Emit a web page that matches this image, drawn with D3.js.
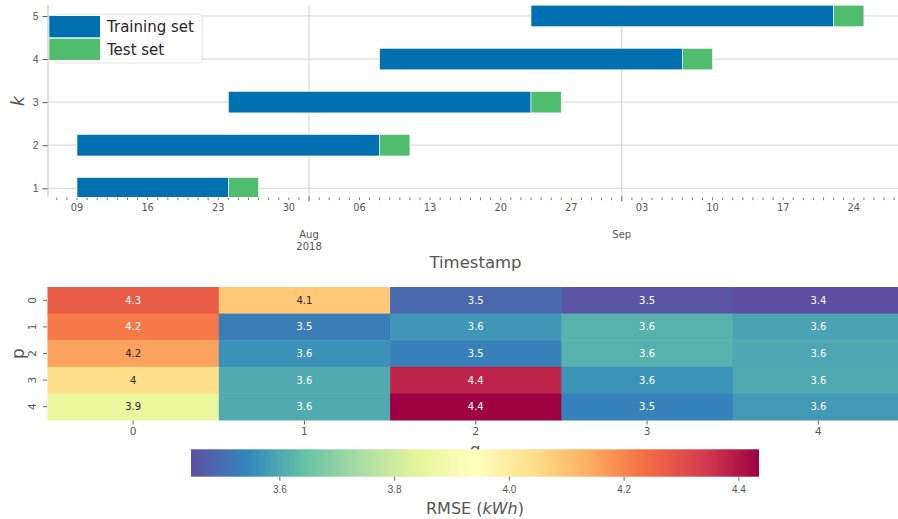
<!DOCTYPE html>
<html>
<head>
<meta charset="utf-8">
<script src="https://cdn.jsdelivr.net/npm/d3@7/dist/d3.min.js"></script>
<style>
  html, body { margin: 0; padding: 0; background: #fff; }
  svg { display: block; font-family: "DejaVu Sans", sans-serif; }
</style>
</head>
<body>
<svg id="chart" width="898" height="519"></svg>
<script>
// ---- Cross-validation folds (time-series split) ----
const folds = [1, 2, 3, 4, 5];
const trainStart = ["2018-07-09", "2018-07-09", "2018-07-24", "2018-08-08", "2018-08-23"];
const trainEnd   = ["2018-07-24", "2018-08-08", "2018-08-23", "2018-09-07", "2018-09-22"];
const testEnd    = ["2018-07-27", "2018-08-11", "2018-08-26", "2018-09-10", "2018-09-25"];
const seriesNames = ["Training set", "Test set"];
const seriesColors = ["#0070b0", "#50bd6e"];

// ---- Grid search RMSE (rows: p, columns: q) ----
const pValues = [0, 1, 2, 3, 4];
const qValues = [0, 1, 2, 3, 4];
const rmse = [
  [4.273, 4.088, 3.490, 3.455, 3.446],
  [4.218, 3.527, 3.569, 3.615, 3.591],
  [4.156, 3.562, 3.531, 3.615, 3.596],
  [4.040, 3.603, 4.379, 3.564, 3.600],
  [3.857, 3.603, 4.436, 3.534, 3.574]
];
const colorbarTicks = [3.6, 3.8, 4.0, 4.2, 4.4];
// Spectral, reversed (low = purple, high = crimson)
const spectralR = ["#5e4fa2", "#3288bd", "#66c2a5", "#abdda4", "#e6f598", "#ffffbf",
                   "#fee08b", "#fdae61", "#f46d43", "#d53e4f", "#9e0142"];

const svg = d3.select("#chart");
const parse = d3.utcParse("%Y-%m-%d");
const tickGray = "#555";

// ================= Upper panel: fold timeline =================
const tl = { left: 48, right: 903, top: 5.2, bottom: 196.9 };
const x = d3.scaleUtc()
  .domain([new Date(Date.UTC(2018, 6, 6, 3)), new Date(Date.UTC(2018, 8, 28, 21))])
  .range([tl.left, tl.right]);
const y = d3.scaleLinear().domain([0.8, 5.25]).range([tl.bottom, tl.top]);

svg.append("clipPath").attr("id", "tlClip")
  .append("rect").attr("x", tl.left).attr("y", tl.top)
  .attr("width", tl.right - tl.left).attr("height", tl.bottom - tl.top);

const gTl = svg.append("g");

// gridlines
gTl.append("g").selectAll("line").data(folds).join("line")
  .attr("x1", tl.left).attr("x2", tl.right)
  .attr("y1", d => y(d)).attr("y2", d => y(d))
  .attr("stroke", "#dedede").attr("stroke-width", 1.3);
const months = d3.utcMonth.range(x.domain()[0], x.domain()[1]);
gTl.append("g").selectAll("line").data(months).join("line")
  .attr("x1", d => x(d)).attr("x2", d => x(d))
  .attr("y1", tl.top).attr("y2", tl.bottom)
  .attr("stroke", "#cfcfcf").attr("stroke-width", 1);

// bars
const barH = 0.5;
const bars = gTl.append("g").attr("clip-path", "url(#tlClip)");
folds.forEach((k, i) => {
  const segs = [
    { a: parse(trainStart[i]), b: parse(trainEnd[i]), c: seriesColors[0] },
    { a: parse(trainEnd[i]), b: parse(testEnd[i]), c: seriesColors[1] }
  ];
  bars.selectAll(null).data(segs).join("rect")
    .attr("x", d => x(d.a))
    .attr("width", d => x(d.b) - x(d.a))
    .attr("y", y(k + barH / 2))
    .attr("height", y(k - barH / 2) - y(k + barH / 2))
    .attr("fill", d => d.c)
    .attr("stroke", "#ffffff").attr("stroke-width", 0.6);
});

// left spine
gTl.append("line")
  .attr("x1", tl.left).attr("x2", tl.left)
  .attr("y1", tl.top).attr("y2", tl.bottom)
  .attr("stroke", "#cccccc").attr("stroke-width", 1.2);

// y axis ticks
const yAxis = d3.axisLeft(y).tickValues(folds).tickSize(5).tickPadding(4).tickFormat(d3.format("d"));
const gy = gTl.append("g").attr("transform", `translate(${tl.left - 0.5},0)`).call(yAxis);
gy.select(".domain").remove();
gy.selectAll(".tick line").attr("stroke", tickGray);
gy.selectAll(".tick text").attr("fill", tickGray).style("font-size", "10.5px");

// x axis: daily minor ticks, weekly (Monday) labels, month major ticks/labels
const gx = gTl.append("g");
const days = d3.utcDay.range(x.domain()[0], x.domain()[1]);
gx.selectAll("line.minor").data(days.filter(d => d.getUTCDate() !== 1)).join("line")
  .attr("class", "minor")
  .attr("x1", d => x(d)).attr("x2", d => x(d))
  .attr("y1", tl.bottom + 0.6).attr("y2", tl.bottom + 3.2)
  .attr("stroke", tickGray).attr("stroke-width", 0.8);
gx.selectAll("line.major").data(months).join("line")
  .attr("class", "major")
  .attr("x1", d => x(d)).attr("x2", d => x(d))
  .attr("y1", tl.bottom - 0.5).attr("y2", tl.bottom + 4.5)
  .attr("stroke", tickGray).attr("stroke-width", 1);
const mondays = d3.utcMonday.range(x.domain()[0], x.domain()[1]);
gx.selectAll("text.minor").data(mondays).join("text")
  .attr("class", "minor")
  .attr("x", d => x(d)).attr("y", 207.3).attr("dy", "0.35em")
  .attr("text-anchor", "middle").attr("fill", tickGray)
  .style("font-size", "9.8px")
  .text(d3.utcFormat("%d"));
const monthLabel = (d, i) => i === 0 ? [d3.utcFormat("%b")(d), d3.utcFormat("%Y")(d)] : [d3.utcFormat("%b")(d)];
months.forEach((m, i) => {
  const t = gx.append("text").attr("text-anchor", "middle").attr("fill", tickGray).style("font-size", "10px");
  monthLabel(m, i).forEach((line, j) => {
    t.append("tspan").attr("x", x(m)).attr("y", 234 + j * 12.3).attr("dy", "0.35em").text(line);
  });
});

// axis titles
svg.append("text").attr("x", (tl.left + tl.right) / 2).attr("y", 262).attr("dy", "0.35em")
  .attr("text-anchor", "middle").attr("fill", tickGray).style("font-size", "16.5px")
  .text("Timestamp");
svg.append("text").attr("transform", `translate(18,${(tl.top + tl.bottom) / 2}) rotate(-90)`)
  .attr("dy", "0.35em").attr("text-anchor", "middle").attr("fill", tickGray)
  .style("font-size", "17px").style("font-style", "italic").text("k");

// legend
const lg = svg.append("g");
lg.append("rect").attr("x", 55).attr("y", 14).attr("width", 147).attr("height", 49).attr("rx", 3)
  .attr("fill", "#ffffff").attr("fill-opacity", 0.8).attr("stroke", "#dddddd").attr("stroke-width", 0.8);
seriesNames.forEach((name, i) => {
  lg.append("rect").attr("x", 49.3).attr("y", 16 + i * 22.7).attr("width", 50.7).attr("height", 21.3)
    .attr("fill", seriesColors[i]);
  lg.append("text").attr("x", 107).attr("y", 26.8 + i * 22.5).attr("dy", "0.35em")
    .attr("fill", "#262626").style("font-size", "15px").text(name);
});

// ================= Lower panel: RMSE heatmap =================
const hm = { left: 47.5, right: 904, top: 287, bottom: 420 };
const xb = d3.scaleBand().domain(qValues).range([hm.left, hm.right]);
const yb = d3.scaleBand().domain(pValues).range([hm.top, hm.bottom]);
const flat = rmse.flat();
const vmin = d3.min(flat), vmax = d3.max(flat);
const color = d3.scaleLinear()
  .domain(spectralR.map((_, i) => vmin + i * (vmax - vmin) / (spectralR.length - 1)))
  .range(spectralR).interpolate(d3.interpolateRgb).clamp(true);

function luminance(c) {
  const rgb = d3.rgb(c);
  const lin = v => { v /= 255; return v <= 0.03928 ? v / 12.92 : Math.pow((v + 0.055) / 1.055, 2.4); };
  return 0.2126 * lin(rgb.r) + 0.7152 * lin(rgb.g) + 0.0722 * lin(rgb.b);
}

const cells = [];
pValues.forEach((p, i) => qValues.forEach((q, j) => cells.push({ p, q, v: rmse[i][j] })));
const gh = svg.append("g");
gh.selectAll("rect").data(cells).join("rect")
  .attr("x", d => xb(d.q)).attr("y", d => yb(d.p))
  .attr("width", xb.bandwidth() + 0.5).attr("height", yb.bandwidth() + 0.5)
  .attr("fill", d => color(d.v));
gh.selectAll("text.ann").data(cells).join("text").attr("class", "ann")
  .attr("x", d => xb(d.q) + xb.bandwidth() / 2)
  .attr("y", d => yb(d.p) + yb.bandwidth() / 2).attr("dy", "0.35em")
  .attr("text-anchor", "middle").style("font-size", "10px")
  .attr("fill", d => luminance(color(d.v)) > 0.408 ? "#262626" : "#ffffff")
  .text(d => d3.format(".2")(d.v).replace(/\.0+$/, ""));

// heatmap ticks and labels
gh.selectAll("line.xt").data(qValues).join("line").attr("class", "xt")
  .attr("x1", d => xb(d) + xb.bandwidth() / 2).attr("x2", d => xb(d) + xb.bandwidth() / 2)
  .attr("y1", hm.bottom + 0.5).attr("y2", hm.bottom + 4.5)
  .attr("stroke", tickGray).attr("stroke-width", 0.9);
gh.selectAll("text.xl").data(qValues).join("text").attr("class", "xl")
  .attr("x", d => xb(d) + xb.bandwidth() / 2).attr("y", 431.7).attr("dy", "0.35em")
  .attr("text-anchor", "middle").attr("fill", tickGray).style("font-size", "10.5px")
  .text(d => d);
gh.selectAll("line.yt").data(pValues).join("line").attr("class", "yt")
  .attr("x1", hm.left - 4.5).attr("x2", hm.left - 0.5)
  .attr("y1", d => yb(d) + yb.bandwidth() / 2).attr("y2", d => yb(d) + yb.bandwidth() / 2)
  .attr("stroke", tickGray).attr("stroke-width", 0.9);
gh.selectAll("text.yl").data(pValues).join("text").attr("class", "yl")
  .attr("transform", d => `translate(32,${yb(d) + yb.bandwidth() / 2}) rotate(-90)`)
  .attr("dy", "0.35em").attr("text-anchor", "middle").attr("fill", tickGray)
  .style("font-size", "10.5px").text(d => d);

svg.append("text").attr("transform", `translate(18,${(hm.top + hm.bottom) / 2}) rotate(-90)`)
  .attr("dy", "0.35em").attr("text-anchor", "middle").attr("fill", tickGray)
  .style("font-size", "17px").text("p");
svg.append("text").attr("x", (hm.left + 903) / 2).attr("y", 456)
  .attr("text-anchor", "middle").attr("fill", tickGray)
  .style("font-size", "17px").text("q");

// ================= Colorbar =================
const cb = { left: 191, right: 759, top: 449.3, bottom: 476.7 };
const cx = d3.scaleLinear().domain([vmin, vmax]).range([cb.left, cb.right]);
const grad = svg.append("defs").append("linearGradient").attr("id", "cbGrad")
  .attr("x1", "0%").attr("x2", "100%").attr("y1", "0%").attr("y2", "0%");
spectralR.forEach((c, i) => {
  grad.append("stop").attr("offset", `${(i / (spectralR.length - 1)) * 100}%`).attr("stop-color", c);
});
svg.append("rect").attr("x", cb.left).attr("y", cb.top)
  .attr("width", cb.right - cb.left).attr("height", cb.bottom - cb.top)
  .attr("fill", "url(#cbGrad)");
const cAxis = d3.axisBottom(cx).tickValues(colorbarTicks).tickSize(4).tickPadding(4).tickFormat(d3.format(".1f"));
const gc = svg.append("g").attr("transform", `translate(0,${cb.bottom})`).call(cAxis);
gc.select(".domain").remove();
gc.selectAll(".tick line").attr("stroke", tickGray).attr("stroke-width", 0.9);
gc.selectAll(".tick text").attr("fill", tickGray).style("font-size", "10px")
  .attr("y", 13.3).attr("dy", "0.35em");
const cbTitle = svg.append("text").attr("x", (cb.left + cb.right) / 2).attr("y", 508).attr("dy", "0.35em")
  .attr("text-anchor", "middle").attr("fill", tickGray).style("font-size", "16px");
cbTitle.append("tspan").text("RMSE (");
cbTitle.append("tspan").style("font-style", "italic").text("kWh");
cbTitle.append("tspan").text(")");
</script>
</body>
</html>
